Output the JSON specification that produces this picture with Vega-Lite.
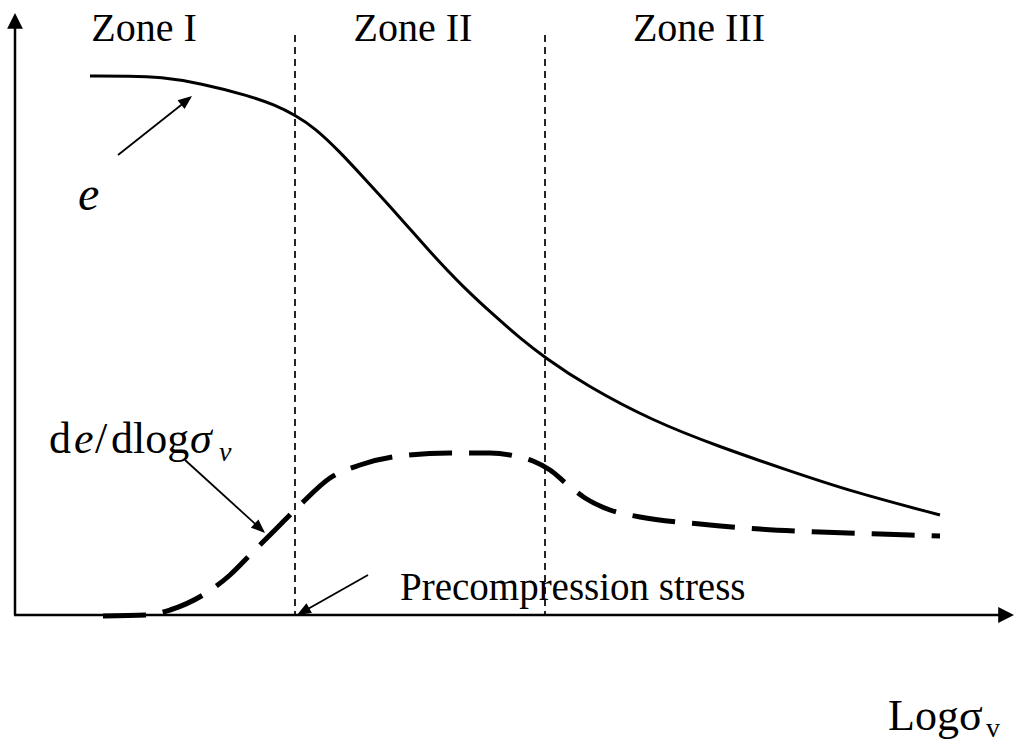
{
  "$schema": "https://vega.github.io/schema/vega-lite/v6.json",
  "width": 1018,
  "height": 751,
  "autosize": {"type": "fit", "contains": "padding"},
  "padding": 0,
  "background": "white",
  "config": {"view": {"stroke": null}},
  "encoding": {
    "x": {"field": "x", "type": "quantitative", "scale": {"domain": [0, 1018], "nice": false, "zero": false}, "axis": null},
    "y": {"field": "y", "type": "quantitative", "scale": {"domain": [0, 751], "reverse": true, "nice": false, "zero": false}, "axis": null}
  },
  "layer": [
    {
      "data": {"values": [
        {"part": "y-axis", "x": 15, "y": 615, "x2": 15, "y2": 26},
        {"part": "x-axis", "x": 14, "y": 615, "x2": 1002, "y2": 615}
      ]},
      "mark": {"type": "rule", "color": "black", "strokeWidth": 2.5},
      "encoding": {"x2": {"field": "x2"}, "y2": {"field": "y2"}}
    },
    {
      "data": {"values": [
        {"boundary": "I-II", "x": 295, "y": 35, "y2": 615},
        {"boundary": "II-III", "x": 545, "y": 35, "y2": 615}
      ]},
      "mark": {"type": "rule", "color": "black", "strokeWidth": 1.7, "strokeDash": [7, 5]},
      "encoding": {"y2": {"field": "y2"}}
    },
    {
      "data": {"values": [
        {"x": 90, "y": 76}, {"x": 130, "y": 76}, {"x": 160, "y": 77}, {"x": 200, "y": 83},
        {"x": 250, "y": 96}, {"x": 275, "y": 105}, {"x": 295, "y": 115}, {"x": 315, "y": 128},
        {"x": 340, "y": 152}, {"x": 363, "y": 177}, {"x": 397, "y": 214}, {"x": 430, "y": 252},
        {"x": 463, "y": 287}, {"x": 497, "y": 318}, {"x": 520, "y": 338}, {"x": 544, "y": 357},
        {"x": 587, "y": 386}, {"x": 653, "y": 421}, {"x": 720, "y": 447}, {"x": 787, "y": 470},
        {"x": 853, "y": 492}, {"x": 940, "y": 515}
      ]},
      "mark": {"type": "line", "color": "black", "strokeWidth": 3, "interpolate": "basis"}
    },
    {
      "data": {"values": [
        {"x": 103, "y": 616}, {"x": 148, "y": 615}, {"x": 170, "y": 610}, {"x": 203, "y": 595},
        {"x": 230, "y": 575}, {"x": 250, "y": 555}, {"x": 275, "y": 530}, {"x": 300, "y": 505},
        {"x": 330, "y": 478}, {"x": 360, "y": 465}, {"x": 400, "y": 456}, {"x": 450, "y": 453},
        {"x": 490, "y": 453}, {"x": 515, "y": 456}, {"x": 533, "y": 461}, {"x": 550, "y": 470},
        {"x": 568, "y": 485}, {"x": 585, "y": 498}, {"x": 610, "y": 510}, {"x": 640, "y": 517},
        {"x": 700, "y": 524}, {"x": 760, "y": 529}, {"x": 820, "y": 532}, {"x": 880, "y": 534},
        {"x": 940, "y": 536}
      ]},
      "mark": {"type": "line", "color": "black", "strokeWidth": 5, "strokeDash": [43, 17], "strokeCap": "butt", "interpolate": "monotone"}
    },
    {
      "data": {"values": [
        {"arrow": "e", "x": 118, "y": 155, "x2": 190, "y2": 98},
        {"arrow": "slope", "x": 185, "y": 460, "x2": 263, "y2": 531},
        {"arrow": "precompression", "x": 368, "y": 575, "x2": 299, "y2": 614}
      ]},
      "mark": {"type": "rule", "color": "black", "strokeWidth": 1.8},
      "encoding": {"x2": {"field": "x2"}, "y2": {"field": "y2"}}
    },
    {
      "data": {"values": [
        {"head": "y-axis", "x": 15, "y": 13, "dir": 0},
        {"head": "x-axis", "x": 1014, "y": 615, "dir": 90}
      ]},
      "mark": {"type": "point", "shape": "M0,0L-0.5,1L0.5,1Z", "size": 1000, "filled": true, "opacity": 1, "color": "black", "strokeWidth": 0},
      "encoding": {"angle": {"field": "dir", "type": "quantitative", "scale": null}}
    },
    {
      "data": {"values": [
        {"head": "e", "x": 192, "y": 96, "dir": 51.4},
        {"head": "slope", "x": 265, "y": 533, "dir": 132.4},
        {"head": "precompression", "x": 297, "y": 615, "dir": 240.6}
      ]},
      "mark": {"type": "point", "shape": "M0,0L-0.4,1L0.4,1Z", "size": 784, "filled": true, "opacity": 1, "color": "black", "strokeWidth": 0},
      "encoding": {"angle": {"field": "dir", "type": "quantitative", "scale": null}}
    },
    {
      "data": {"values": [
        {"label": "Zone I", "x": 144, "y": 41},
        {"label": "Zone II", "x": 413, "y": 41},
        {"label": "Zone III", "x": 699, "y": 41}
      ]},
      "mark": {"type": "text", "font": "Liberation Serif", "fontSize": 40, "align": "center", "baseline": "alphabetic", "color": "black"},
      "encoding": {"text": {"field": "label"}}
    },
    {
      "data": {"values": [
        {"label": "Precompression stress", "x": 400, "y": 600}
      ]},
      "mark": {"type": "text", "font": "Liberation Serif", "fontSize": 39, "align": "left", "baseline": "alphabetic", "color": "black"},
      "encoding": {"text": {"field": "label"}}
    },
    {
      "data": {"values": [
        {"label": "e", "x": 78, "y": 210}
      ]},
      "mark": {"type": "text", "font": "Liberation Serif", "fontSize": 48, "fontStyle": "italic", "align": "left", "baseline": "alphabetic", "color": "black"},
      "encoding": {"text": {"field": "label"}}
    },
    {
      "data": {"values": [
        {"label": "d", "x": 49, "y": 453},
        {"label": "/", "x": 95, "y": 453},
        {"label": "dlog", "x": 111, "y": 453}
      ]},
      "mark": {"type": "text", "font": "Liberation Serif", "fontSize": 44, "align": "left", "baseline": "alphabetic", "color": "black"},
      "encoding": {"text": {"field": "label"}}
    },
    {
      "data": {"values": [
        {"label": "e", "x": 74, "y": 453},
        {"label": "σ", "x": 190, "y": 453}
      ]},
      "mark": {"type": "text", "font": "Liberation Serif", "fontSize": 44, "fontStyle": "italic", "align": "left", "baseline": "alphabetic", "color": "black"},
      "encoding": {"text": {"field": "label"}}
    },
    {
      "data": {"values": [
        {"label": "v", "x": 219, "y": 461}
      ]},
      "mark": {"type": "text", "font": "Liberation Serif", "fontSize": 28, "fontStyle": "italic", "align": "left", "baseline": "alphabetic", "color": "black"},
      "encoding": {"text": {"field": "label"}}
    },
    {
      "data": {"values": [
        {"label": "Logσ", "x": 888, "y": 730}
      ]},
      "mark": {"type": "text", "font": "Liberation Serif", "fontSize": 44, "align": "left", "baseline": "alphabetic", "color": "black"},
      "encoding": {"text": {"field": "label"}}
    },
    {
      "data": {"values": [
        {"label": "v", "x": 986, "y": 737}
      ]},
      "mark": {"type": "text", "font": "Liberation Serif", "fontSize": 28, "align": "left", "baseline": "alphabetic", "color": "black"},
      "encoding": {"text": {"field": "label"}}
    }
  ]
}
